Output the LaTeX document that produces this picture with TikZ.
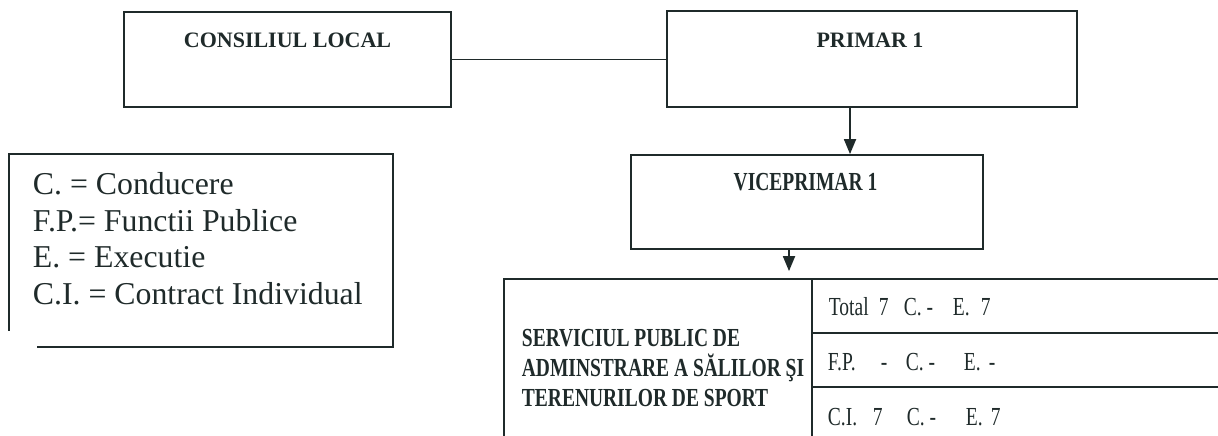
\documentclass[tikz,border=0pt]{standalone}
\usepackage{fontspec}
\setmainfont{Liberation Serif}
\newfontfamily\narrowfont[FakeStretch=0.75]{Liberation Serif}
\usetikzlibrary{arrows.meta}
\definecolor{ink}{HTML}{1F2A2A}

\begin{document}
\begin{tikzpicture}[x=0.5pt, y=-0.5pt, line width=0.9pt, color=ink,
    box/.style={draw, inner sep=0pt},
    head/.style={inner sep=0pt, font=\bfseries\fontsize{11}{13}\selectfont},
    narrowhead/.style={inner sep=0pt, align=left, font=\narrowfont\bfseries\fontsize{13}{15}\selectfont},
    cell/.style={inner sep=0pt, anchor=base west, font=\narrowfont\fontsize{13}{15}\selectfont},
    arr/.style={-{Triangle[width=6pt,length=7.5pt]}}]
    \useasboundingbox (0,0) rectangle (1218,435);
    \clip (0,0) rectangle (1218,435);

    % boxes
    \node[box, minimum width=163.5pt, minimum height=47.5pt] (cl) at (287.5,59.5) {};
    \node[box, minimum width=205pt, minimum height=48pt] (pr) at (872,59) {};
    \node[box, minimum width=176pt, minimum height=47pt] (vp) at (807,202) {};
    \node[box, minimum width=373pt, minimum height=81pt] (sp) at (877,360) {};

    \node[head, anchor=north] (cl-t) at ([yshift=-10.5pt]cl.north) {CONSILIUL LOCAL};
    \node[head, anchor=north] (pr-t) at ([xshift=-1pt, yshift=-11pt]pr.north) {PRIMAR 1};
    \node[narrowhead, anchor=north] (vp-t) at ([xshift=-0.75pt, yshift=-9pt]vp.north) {VICEPRIMAR 1};
    \node[narrowhead, anchor=north west] (sp-t) at (521,328) {SERVICIUL PUBLIC DE\\ADMINSTRARE A SĂLILOR ŞI\\TERENURILOR DE SPORT};

    % table
    \coordinate (div) at (812,279);
    \coordinate (r1) at (812,333);
    \coordinate (r2) at (812,387);
    \draw (div) -- (div |- sp.south);
    \draw (r1) -- (r1 -| sp.east);
    \draw (r2) -- (r2 -| sp.east);

    \node[cell] (c1) at (828,315) {\makebox[25pt][l]{Total}\makebox[12.5pt][l]{7}\makebox[24.5pt][l]{C. -}\makebox[14pt][l]{E.}7};
    \node[cell] (c2) at (827,370) {\makebox[26.5pt][l]{F.P.}\makebox[12.5pt][l]{-}\makebox[29pt][l]{C. -}\makebox[12.5pt][l]{E.}-};
    \node[cell] (c3) at (827,425) {\makebox[22.5pt][l]{C.I.}\makebox[17pt][l]{7}\makebox[29.5pt][l]{C. -}\makebox[12.5pt][l]{E.}7};

    % connectors
    \draw (cl.east) -- (cl.east -| pr.west);
    \draw[arr] ([xshift=-11pt]pr.south) -- ([xshift=-11pt]pr.south |- vp.north);
    \draw[arr, shorten >=3.5pt] ([xshift=-9pt]vp.south) -- ([xshift=-9pt]vp.south |- sp.north);

    % legend
    \node[inner sep=0pt, minimum width=191.25pt, minimum height=95.5pt] (lg) at (200.75,250.5) {};
    \draw ([yshift=8pt]lg.south west) |- (lg.north east) |- ([xshift=14pt]lg.south west);
    \node[anchor=north west, inner sep=0pt, align=left, font=\fontsize{15.9}{18.25}\selectfont] (lg-t) at (32,172)
        {C. = Conducere\\F.P.= Functii Publice\\E. = Executie\\C.I. = Contract Individual};
\end{tikzpicture}
\end{document}
